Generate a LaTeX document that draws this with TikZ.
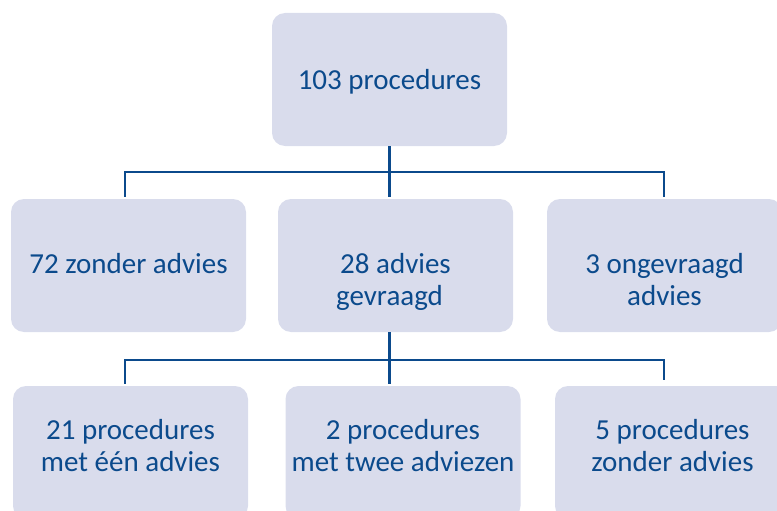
\documentclass[tikz,border=0pt]{standalone}
\usepackage{fontspec}
\setmainfont{Carlito}
\usetikzlibrary{positioning, calc}
\definecolor{boxfill}{HTML}{D9DCEC}
\definecolor{boxtext}{HTML}{0B4A8C}
% box text, top aligned, #1 = gap above first line
\newcommand{\boxlines}[2]{\parbox[c][133pt][t]{235pt}{\centering\vspace*{#1}#2}}

\begin{document}
\begin{tikzpicture}[
    x=1pt, y=-1pt,
    every node/.style={font=\fontsize{29}{32}\selectfont, text=boxtext},
    orgbox/.style={rectangle, rounded corners=13pt, fill=boxfill, minimum width=235pt, minimum height=133pt, inner sep=0pt},
    link/.style={draw=boxtext, line width=2.4pt}
]
    \useasboundingbox (0,0) rectangle (777,511);

    \node[orgbox] (total) at (389.5,79.5) {\boxlines{56pt}{103 procedures}};

    \node[orgbox] (zonder) at (128.5,265.5) {\boxlines{54pt}{72 zonder advies}};
    \node[orgbox] (gevraagd) at (395.5,265.5) {\boxlines{54pt}{28 advies\hspace*{12pt}\\gevraagd\hspace*{12pt}}};
    \node[orgbox] (ongevraagd) at (664.5,265.5) {\boxlines{54pt}{3 ongevraagd\\advies}};

    \node[orgbox] (een) at (130.5,452.5) {\boxlines{33pt}{21 procedures\\met één advies}};
    \node[orgbox] (twee) at (403,452.5) {\boxlines{33pt}{2 procedures\\met twee adviezen}};
    \node[orgbox] (geen) at (672.5,452.5) {\boxlines{33pt}{5 procedures\\zonder advies}};

    % first level
    \coordinate (busL) at (125,172);
    \coordinate (busR) at (664,172);
    \draw[link] ($(busL |- zonder.north)+(0,-2)$) -- (busL) -- (busR) -- ($(busR |- ongevraagd.north)+(0,-2)$);
    \draw[link] (total.south) -- ($(total.south |- gevraagd.north)+(0,-2)$);

    % second level
    \coordinate (subL) at (125,360);
    \coordinate (subR) at (664,360);
    \draw[link] ($(subL |- een.north)+(0,-2)$) -- (subL) -- (subR) -- ($(subR |- geen.north)+(0,-6)$);
    \draw[link] (total.south |- gevraagd.south) -- ($(total.south |- twee.north)+(0,-2)$);
\end{tikzpicture}
\end{document}
